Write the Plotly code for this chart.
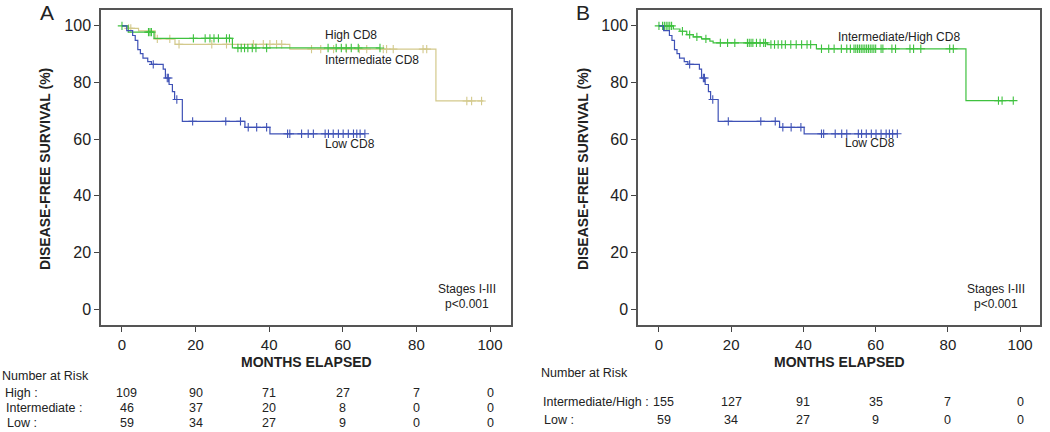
import numpy as np
import plotly.graph_objects as go

# ---------------- data ----------------
# Panel A: Kaplan-Meier step curves (time in months, survival %)
low_t = [0, 1.3, 2.9, 3.6, 4.3, 5.0, 5.7, 7.0, 8.0, 11.2, 11.8, 12.8, 13.7, 14.3, 16.4, 33.4, 40.2]
low_s = [100, 98.3, 96.6, 94.9, 91.6, 90.2, 88.6, 87.4, 86.4, 84.7, 81.6, 79.3, 76.8, 74.0, 66.3, 64.2, 61.9]
low_end = 66.0
low_cens = [8.5, 12.3, 12.6, 14.9, 19.2, 28.2, 32.2, 34.3, 36.6, 39.3, 45.0, 45.6, 48.8, 50.6, 52.0,
            55.2, 56.1, 57.4, 58.8, 60.1, 61.5, 62.9, 63.8, 64.7, 66.0]

int_t = [0, 1.7, 8.7, 30.0]
int_s = [100, 97.8, 95.6, 92.2]
int_end = 70.1
int_cens = [0, 7.2, 7.6, 8.0, 19.4, 22.6, 23.9, 25.0, 26.2, 28.4, 29.2, 31.5, 32.4, 33.3, 34.2,
            35.4, 36.4, 39.3, 56.0, 58.2, 59.6, 60.9, 62.3, 64.2, 70.1]

high_t = [0, 1.5, 4.5, 9.0, 14.4, 45.6, 85.3]
high_s = [100, 99.1, 98.2, 95.4, 93.5, 91.8, 73.5]
high_end = 98.2
high_cens = [1.8, 2.4, 9.6, 13.0, 15.5, 24.4, 28.4, 35.7, 38.4, 40.2, 42.0, 43.4, 51.5, 54.0, 57.5,
             61.0, 64.5, 66.5, 71.0, 71.9, 73.7, 81.8, 82.8, 93.7, 95.0, 97.7]

# Panel B: Intermediate/High combined
ih_t = [0, 4.0, 5.8, 7.7, 9.5, 11.8, 14.1, 15.0, 30.0, 43.6, 85.0]
ih_s = [100, 98.9, 98.1, 96.9, 96.1, 95.4, 94.6, 94.0, 93.4, 91.9, 73.6]
ih_end = 98.1
ih_cens = [0, 1.0, 1.5, 2.0, 2.5, 3.0, 3.5, 6.5, 8.5, 10.5, 13.0, 17.0, 19.0, 21.0, 24.5, 25.0, 25.5,
           26.0, 27.0, 28.0, 29.0, 29.5, 31.0, 32.0, 33.0, 34.0, 35.0, 36.5, 38.0, 39.5, 41.0, 42.0,
           45.0, 47.0, 48.5, 50.5, 52.0, 53.0, 54.0, 54.5, 55.0, 55.5, 56.0, 56.5, 57.0, 57.5, 58.0,
           58.5, 59.0, 59.5, 60.0, 61.5, 62.0, 64.5, 65.5, 69.5, 70.5, 72.5, 80.5, 81.5, 94.0, 95.0, 98.1]

# Number at risk
risk_times = [0, 20, 40, 60, 80, 100]
riskA_high = [109, 90, 71, 27, 7, 0]
riskA_inter = [46, 37, 20, 8, 0, 0]
riskA_low = [59, 34, 27, 9, 0, 0]
riskB_ih = [155, 127, 91, 35, 7, 0]
riskB_low = [59, 34, 27, 9, 0, 0]

xticks = [0, 20, 40, 60, 80, 100]
yticks = [0, 20, 40, 60, 80, 100]

# ---------------- styling ----------------
BLUE = "#3f52b6"
GREEN = "#3fc13f"
TAN = "#d3c98c"
FONT = "Liberation Sans, Arial, sans-serif"
TXT = "#222222"
W, H = 1050, 432


def px(x):
    return x / W


def py(y):
    return 1 - y / H


def surv_at(t, s, c):
    t = np.asarray(t, float)
    s = np.asarray(s, float)
    idx = np.searchsorted(t, np.asarray(c, float), side="right") - 1
    return s[idx]


fig = go.Figure()


def add_km(t, s, end, cens, color, xa, ya):
    xs = list(t) + [end]
    ys = list(s) + [s[-1]]
    fig.add_trace(go.Scatter(x=xs, y=ys, mode="lines", line=dict(color=color, width=1.2, shape="hv"),
                             xaxis=xa, yaxis=ya, showlegend=False, hoverinfo="skip"))
    fig.add_trace(go.Scatter(x=cens, y=surv_at(t, s, cens), mode="markers",
                             marker=dict(symbol="cross-thin", size=6, line=dict(color=color, width=1.1)),
                             xaxis=xa, yaxis=ya, showlegend=False, hoverinfo="skip"))


add_km(high_t, high_s, high_end, high_cens, TAN, "x", "y")
add_km(int_t, int_s, int_end, int_cens, GREEN, "x", "y")
add_km(low_t, low_s, low_end, low_cens, BLUE, "x", "y")
add_km(ih_t, ih_s, ih_end, ih_cens, GREEN, "x2", "y2")
add_km(low_t, low_s, low_end, low_cens, BLUE, "x2", "y2")

axis_common = dict(showline=True, mirror=True, linecolor="#555555", linewidth=1.5,
                   ticks="outside", ticklen=5, tickwidth=1.3, tickcolor="#444444",
                   showgrid=False, zeroline=False, tickfont=dict(family=FONT, size=15, color=TXT))

yA = [py(325), py(10)]
fig.update_layout(
    width=W, height=H, margin=dict(l=0, r=0, t=0, b=0),
    paper_bgcolor="white", plot_bgcolor="white",
    xaxis=dict(domain=[px(101), px(511)], range=[-5.7, 105.7], tickvals=xticks, anchor="y", **axis_common),
    yaxis=dict(domain=yA, range=[-5.6, 105.6], tickvals=yticks, anchor="x", **axis_common),
    xaxis2=dict(domain=[px(638), px(1040)], range=[-5.8, 105.5], tickvals=xticks, anchor="y2", **axis_common),
    yaxis2=dict(domain=yA, range=[-5.6, 105.6], tickvals=yticks, anchor="x2", **axis_common),
)
fig.update_yaxes(tickfont=dict(size=16))

ann = []


def T(text, x, y, xref="paper", yref="paper", size=12, xanchor="center", yanchor="middle", bold=False,
      angle=0, xshift=0):
    if bold:
        text = "<b>" + text + "</b>"
    ann.append(dict(text=text, x=x, y=y, xref=xref, yref=yref, showarrow=False, xanchor=xanchor,
                    yanchor=yanchor, textangle=angle, xshift=xshift,
                    font=dict(family=FONT, size=size, color=TXT)))


# panel letters
T("A", px(47), py(13), size=21)
T("B", px(583), py(13), size=21)

# axis titles
T("DISEASE-FREE SURVIVAL (%)", px(45), py(169), size=14, bold=True, angle=-90)
T("DISEASE-FREE SURVIVAL (%)", px(583), py(169), size=14, bold=True, angle=-90)
T("MONTHS ELAPSED", px(306), py(362), size=14, bold=True)
T("MONTHS ELAPSED", px(839), py(362), size=14, bold=True)

# curve labels
T("High CD8", 54.6, 96.9, "x", "y", xanchor="left")
T("Intermediate CD8", 54.6, 88.1, "x", "y", xanchor="left")
T("Low CD8", 54.6, 58.4, "x", "y", xanchor="left")
T("Intermediate/High CD8", 49.0, 96.2, "x2", "y2", xanchor="left")
T("Low CD8", 51.0, 58.8, "x2", "y2", xanchor="left")

# stats
T("Stages I-III", 93.8, 7.2, "x", "y")
T("p<0.001", 93.8, 1.9, "x", "y")
T("Stages I-III", 93.4, 7.2, "x2", "y2")
T("p<0.001", 93.4, 1.9, "x2", "y2")

# risk tables
T("Number at Risk", px(0), py(376), xanchor="left", size=12.5)
T("High :", px(3), py(393), xanchor="left", size=12.5)
T("Intermediate :", px(4), py(408), xanchor="left", size=12.5)
T("Low :", px(5), py(423), xanchor="left", size=12.5)
for i, (rt, a, b, c) in enumerate(zip(risk_times, riskA_high, riskA_inter, riskA_low)):
    for val, yy in ((a, 393), (b, 408), (c, 423)):
        T(str(val), rt, py(yy), "x", "paper", size=12.5, xshift=5 if i == 0 else 0)

T("Number at Risk", px(539), py(373), xanchor="left", size=12.5)
T("Intermediate/High :", px(541), py(402), xanchor="left", size=12.5)
T("Low :", px(542), py(420), xanchor="left", size=12.5)
for i, (rt, a, b) in enumerate(zip(risk_times, riskB_ih, riskB_low)):
    for val, yy in ((a, 402), (b, 420)):
        T(str(val), rt, py(yy), "x2", "paper", size=12.5, xshift=5 if i == 0 else 0)

fig.update_layout(annotations=ann)
fig.write_html("out.html", config={"displayModeBar": False},
               post_script="document.body.style.margin='0px';document.body.style.overflow='hidden';")
